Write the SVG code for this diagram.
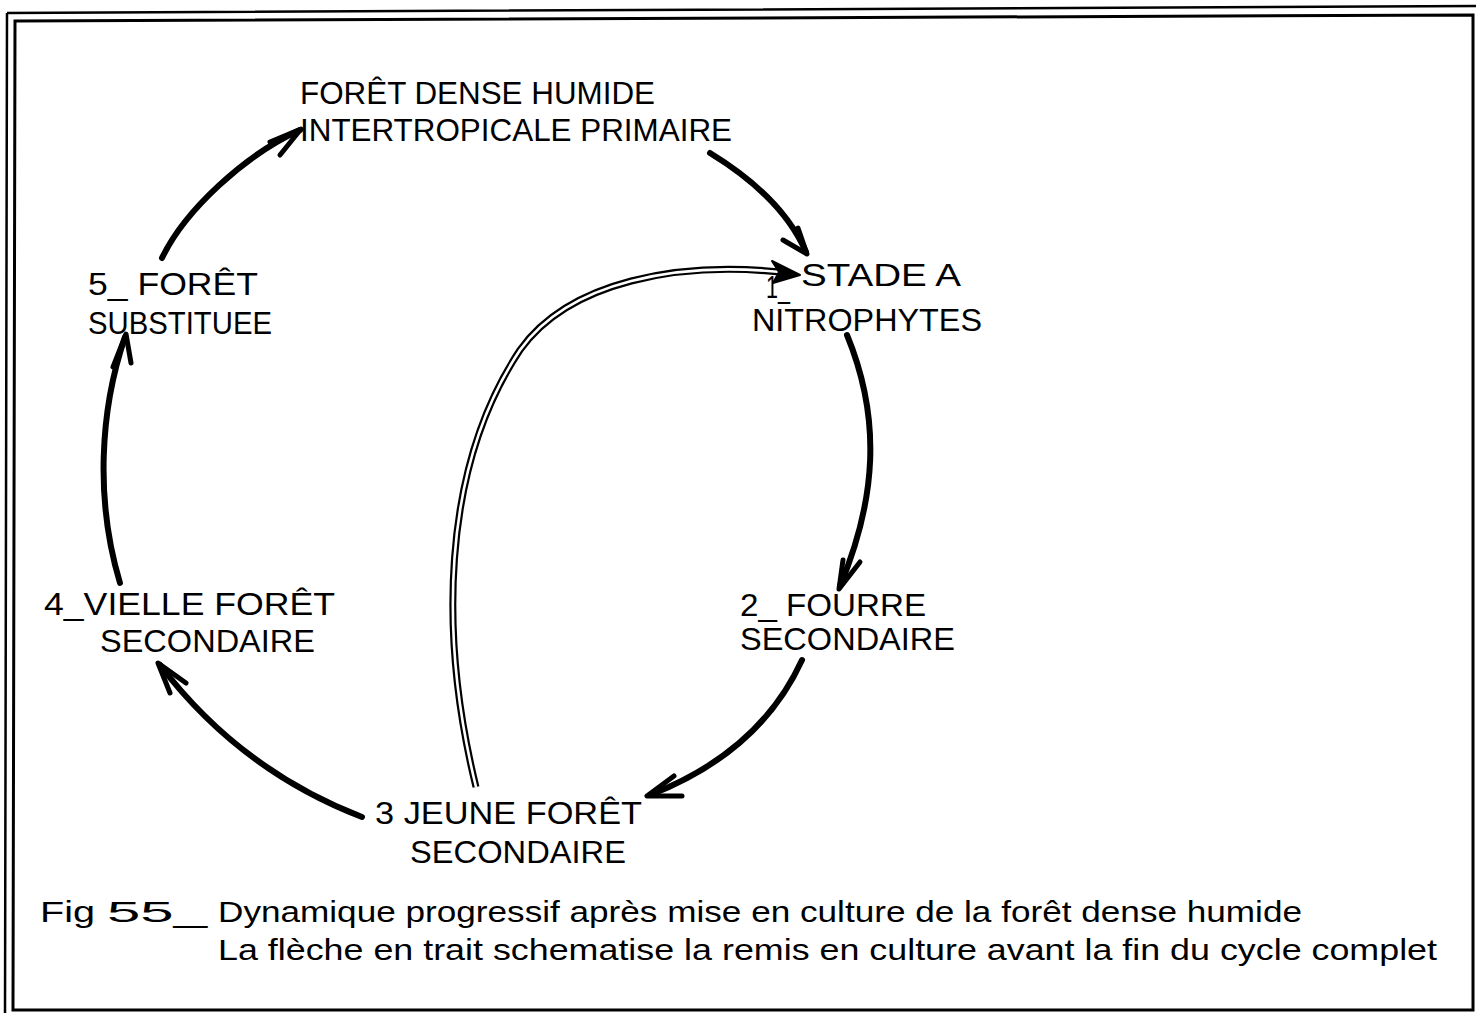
<svg xmlns="http://www.w3.org/2000/svg" width="1476" height="1013" viewBox="0 0 1476 1013">
<style>
.frame{fill:none;stroke:#000}
.lbl{font-family:"Liberation Sans",Arial,sans-serif;font-size:32px;fill:#000}
.cap{font-family:"Liberation Sans",Arial,sans-serif;font-size:29px;fill:#000}
.arr{fill:none;stroke:#000;stroke-width:6;stroke-linecap:round;stroke-linejoin:round}
.head{fill:none;stroke:#000;stroke-width:5;stroke-linecap:round;stroke-linejoin:round}
</style>
<rect width="1476" height="1013" fill="#fff"/>
<g id="frame">
<path class="frame" stroke-width="2.5" d="M7,13 L1476,6 M7,13 L5,1013"/>
<path class="frame" stroke-width="3" d="M15,21 L1473,15 L1473,1010 L13,1010 Z"/>
</g>
<g id="connectors">
<path class="arr" d="M162,258 C185,210 245,155 300,130"/>
<path class="head" d="M270,142 L301,129 L280,155"/>
<path class="arr" d="M710,153 Q782,197 806,252"/>
<path class="head" d="M783,240 L807,254 L798,228"/>
<path class="arr" d="M847,335 C882,420 876,500 840,586"/>
<path class="head" d="M843,560 L839,589 L860,562"/>
<path class="arr" d="M802,660 Q760,752 650,795"/>
<path class="head" d="M674,776 L647,796 L682,796"/>
<path class="arr" d="M362,817 Q240,770 160,665"/>
<path class="head" d="M170,693 L158,663 L186,683"/>
<path class="arr" d="M120,583 C95,500 100,410 125,337"/>
<path class="head" d="M113,367 L126,334 L131,363"/>
<g id="return-arrow">
<path d="M476,787 C440,640 440,470 520,350 C570,280 680,262 780,272" fill="none" stroke="#000" stroke-width="7"/>
<path d="M476,787 C440,640 440,470 520,350 C570,280 680,262 780,272" fill="none" stroke="#fff" stroke-width="2.6"/>
<path d="M800,275 L772,261 L779,272 L773,283 Z" fill="#000" stroke="#000" stroke-width="2" stroke-linejoin="round"/>
</g>
</g>
<g id="node-primaire">
<text class="lbl" x="300" y="104" textLength="355" lengthAdjust="spacingAndGlyphs">FORÊT DENSE HUMIDE</text>
<text class="lbl" x="300" y="141" textLength="432" lengthAdjust="spacingAndGlyphs">INTERTROPICALE PRIMAIRE</text>
</g>
<g id="node-1">
<text class="lbl" x="766" y="298" font-size="22" textLength="24" lengthAdjust="spacingAndGlyphs">1_</text>
<text class="lbl" x="801" y="286" textLength="160" lengthAdjust="spacingAndGlyphs">STADE  A</text>
<text class="lbl" x="752" y="331" textLength="230" lengthAdjust="spacingAndGlyphs">NITROPHYTES</text>
</g>
<g id="node-2">
<text class="lbl" x="740" y="616" textLength="186" lengthAdjust="spacingAndGlyphs">2_ FOURRE</text>
<text class="lbl" x="740" y="650" textLength="215" lengthAdjust="spacingAndGlyphs">SECONDAIRE</text>
</g>
<g id="node-3">
<text class="lbl" x="375" y="824" textLength="267" lengthAdjust="spacingAndGlyphs">3  JEUNE FORÊT</text>
<text class="lbl" x="410" y="863" textLength="216" lengthAdjust="spacingAndGlyphs">SECONDAIRE</text>
</g>
<g id="node-4">
<text class="lbl" x="44" y="615" textLength="291" lengthAdjust="spacingAndGlyphs">4_VIELLE FORÊT</text>
<text class="lbl" x="100" y="652" textLength="215" lengthAdjust="spacingAndGlyphs">SECONDAIRE</text>
</g>
<g id="node-5">
<text class="lbl" x="88" y="295" textLength="170" lengthAdjust="spacingAndGlyphs">5_ FORÊT</text>
<text class="lbl" x="88" y="334" textLength="184" lengthAdjust="spacingAndGlyphs">SUBSTITUEE</text>
</g>
<g id="caption">
<text class="cap" x="40" y="922" textLength="55" lengthAdjust="spacingAndGlyphs">Fig</text>
<text class="cap" x="107" y="922" textLength="100" lengthAdjust="spacingAndGlyphs">55_</text>
<text class="cap" x="218" y="922" textLength="1084" lengthAdjust="spacingAndGlyphs">Dynamique  progressif  après mise  en  culture de la  forêt dense  humide</text>
<text class="cap" x="218" y="960" textLength="1219" lengthAdjust="spacingAndGlyphs">La  flèche  en  trait  schematise  la  remis  en  culture  avant  la  fin  du  cycle  complet</text>
</g>
</svg>
